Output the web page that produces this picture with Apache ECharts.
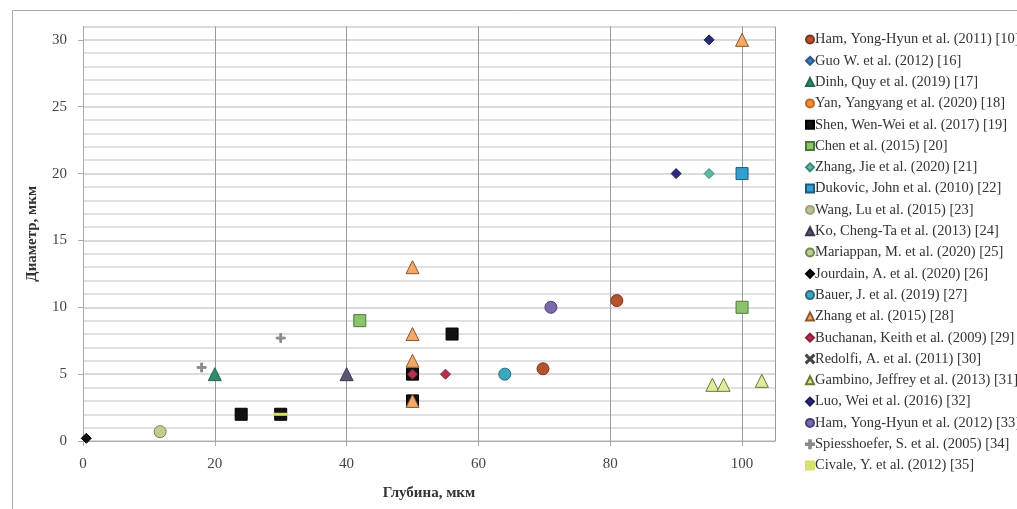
<!DOCTYPE html>
<html><head><meta charset="utf-8">
<script src="https://cdn.jsdelivr.net/npm/echarts@6/dist/echarts.min.js"></script>
<style>html,body{margin:0;padding:0;background:#fff}#c{width:1017px;height:509px}</style>
</head><body><div id="c"></div>
<script>
const xTicks = [0, 20, 40, 60, 80, 100];
const yTicks = [0, 5, 10, 15, 20, 25, 30];
const names = [
  "Ham, Yong-Hyun et al. (2011) [10]",
  "Guo W. et al. (2012) [16]",
  "Dinh, Quy et al. (2019) [17]",
  "Yan, Yangyang et al. (2020) [18]",
  "Shen, Wen-Wei et al. (2017) [19]",
  "Chen et al. (2015) [20]",
  "Zhang, Jie et al. (2020) [21]",
  "Dukovic, John et al. (2010) [22]",
  "Wang, Lu et al. (2015) [23]",
  "Ko, Cheng-Ta et al. (2013) [24]",
  "Mariappan, M. et al. (2020) [25]",
  "Jourdain, A. et al. (2020) [26]",
  "Bauer, J. et al. (2019) [27]",
  "Zhang et al. (2015) [28]",
  "Buchanan, Keith et al. (2009) [29]",
  "Redolfi, A. et al. (2011) [30]",
  "Gambino, Jeffrey et al. (2013) [31]",
  "Luo, Wei et al. (2016) [32]",
  "Ham, Yong-Hyun et al. (2012) [33]",
  "Spiesshoefer, S. et al. (2005) [34]",
  "Civale, Y. et al. (2012) [35]"
];
const ham2011 = [[81, 10.5], [69.8, 5.4]];
const guo = [];
const dinh = [[20, 5]];
const yan = [];
const shen = [[24, 2], [30, 2], [56, 8], [50, 3], [50, 5]];
const chen = [[42, 9], [100, 10]];
const zhangJie = [[95, 20]];
const dukovic = [[100, 20]];
const wang = [];
const ko = [[40, 5]];
const mariappan = [[11.7, 0.7]];
const jourdain = [[0.5, 0.2]];
const bauer = [[64, 5]];
const zhang2015 = [[50, 13], [50, 8], [50, 6], [100, 30], [50, 3]];
const buchanan = [[55, 5], [50, 5]];
const redolfi = [];
const gambino = [[95.5, 4.2], [97.2, 4.2], [103, 4.5]];
const luo = [[95, 30], [90, 20]];
const ham2012 = [[71, 10]];
const spiess = [[18, 5.5], [30, 7.7]];
const civale = [[30, 2]];

const plus = 'path://M4,0H6V4H10V6H6V10H4V6H0V4H4Z';
const cross = 'path://M1,0L5,4L9,0L10,1L6,5L10,9L9,10L5,6L1,10L0,9L4,5L0,1Z';
const styles = [
  [ham2011, 'circle', 12, '#b5532f', '#7a3520'],
  [guo, 'diamond', 8, '#3d7ab8', '#2d5a88'],
  [dinh, 'triangle', 13, '#2e8b6e', '#1e6b50'],
  [yan, 'circle', 10, '#ef8c3c', '#c06a20'],
  [shen, 'rect', 12, '#111111', '#000000'],
  [chen, 'rect', 12, '#8cc46c', '#4a7a3a'],
  [zhangJie, 'diamond', 10, '#5fb8a8', '#3a8a7a'],
  [dukovic, 'rect', 12, '#2fa0d0', '#1f5a7a'],
  [wang, 'circle', 9, '#b8c498', '#98a478'],
  [ko, 'triangle', 13, '#5b5574', '#3b3554'],
  [mariappan, 'circle', 12, '#c8c890', '#6a8a50'],
  [jourdain, 'diamond', 10, '#111111', '#000000'],
  [bauer, 'circle', 12, '#3aa8c0', '#2a6a80'],
  [zhang2015, 'triangle', 13, '#f4a868', '#8a5a30'],
  [buchanan, 'diamond', 10, '#b33250', '#8a2038'],
  [redolfi, cross, 9, '#444444', '#444444'],
  [gambino, 'triangle', 13, '#e0eaa0', '#6a7a30'],
  [luo, 'diamond', 10, '#2b2b7a', '#1b1b5a'],
  [ham2012, 'circle', 12, '#7a6aaa', '#4a3e7a'],
  [spiess, plus, 9, '#8a8a8a', '#8a8a8a'],
  [civale, 'rect', [10, 2], '#d8e070', '#d8e070']
];
const series = styles.map((s, i) => ({
  name: names[i], type: 'scatter', data: s[0], symbol: s[1], symbolSize: s[2],
  itemStyle: { color: s[3], borderColor: s[4], borderWidth: 1, opacity: 1 },
  z: 2 + i
}));

const chart = echarts.init(document.getElementById('c'), null, { renderer: 'canvas' });
const serif = 'Liberation Serif, Times New Roman, serif';
chart.setOption({
  animation: false,
  backgroundColor: '#fff',
  graphic: [{ type: 'rect', left: 10, top: 8, shape: { width: 1030, height: 520 }, style: { fill: 'none', stroke: '#aaaaaa', lineWidth: 1 }, z: 0 }],
  grid: { left: 83, right: 242, top: 26.5, bottom: 68 },
  legend: {
    orient: 'vertical', left: 800, top: 27, itemWidth: 8, itemHeight: 8, itemGap: 6.3,
    textStyle: { fontFamily: serif, fontSize: 14.5, color: '#333', padding: [0, 0, 0, -4] },
    data: names
  },
  xAxis: {
    type: 'value', min: 0, max: 105, interval: 20,
    name: 'Глубина, мкм', nameLocation: 'middle', nameGap: 45,
    nameTextStyle: { fontFamily: serif, fontSize: 15, fontWeight: 'bold', color: '#333' },
    axisLine: { show: true, lineStyle: { color: '#aaaaaa' } },
    axisTick: { show: true, length: 5, lineStyle: { color: '#aaaaaa' } },
    axisLabel: { fontFamily: serif, fontSize: 15, color: '#444', margin: 16, showMaxLabel: false,
      formatter: v => xTicks.includes(v) ? String(v) : '' },
    splitLine: { show: true, lineStyle: { color: '#9a9a9a', width: 1 } }
  },
  yAxis: {
    type: 'value', min: 0, max: 31, interval: 5,
    name: 'Диаметр, мкм', nameLocation: 'middle', nameGap: 43,
    nameTextStyle: { fontFamily: serif, fontSize: 15, fontWeight: 'bold', color: '#333' },
    axisLine: { show: true, lineStyle: { color: '#aaaaaa' } },
    axisTick: { show: true, length: 5, lineStyle: { color: '#aaaaaa' } },
    axisLabel: { fontFamily: serif, fontSize: 15, color: '#444', margin: 16, showMaxLabel: false,
      formatter: v => yTicks.includes(v) ? String(v) : '' },
    splitLine: { show: true, lineStyle: { color: '#cfcfcf', width: 1.5 } },
    minorTick: { show: false, splitNumber: 5 },
    minorSplitLine: { show: true, lineStyle: { color: '#d8d8d8', width: 1.5 } }
  },
  series: series
});
</script></body></html>
